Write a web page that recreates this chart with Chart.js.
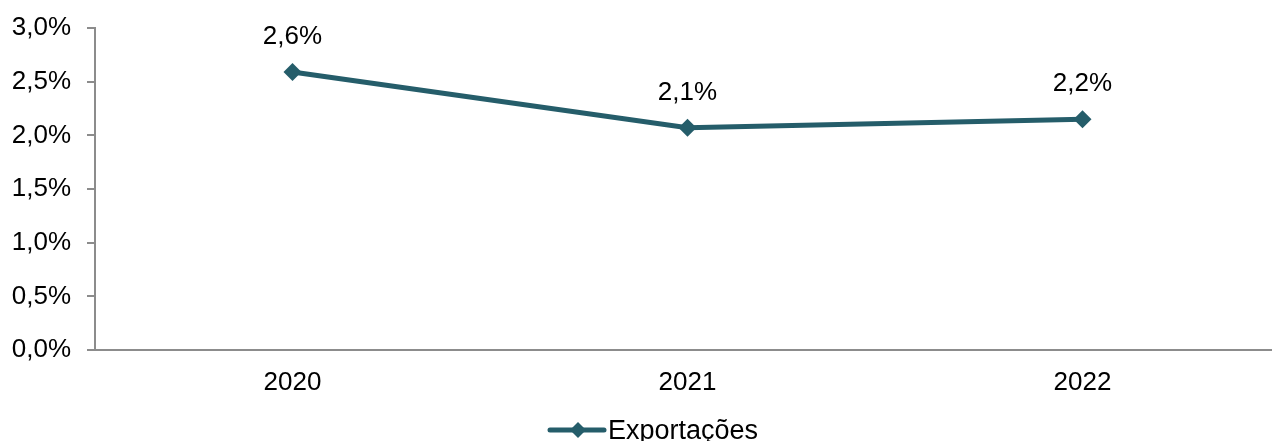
<!DOCTYPE html>
<html>
<head>
<meta charset="utf-8">
<script src="https://cdn.jsdelivr.net/npm/chart.js@4/dist/chart.umd.min.js"></script>
<style>
  html, body { margin: 0; padding: 0; background: #fff; overflow: hidden; }
  #wrap { width: 1289px; height: 441px; position: relative; }
</style>
</head>
<body>
<div id="wrap"><canvas id="lineChart"></canvas></div>
<script>
// Data
const years = ['2020', '2021', '2022'];
const exportacoes = [2.59, 2.07, 2.15];
const pointLabels = ['2,6%', '2,1%', '2,2%'];
const seriesName = 'Exportações';

const lineColor = '#255D6A';
const axisColor = '#8C8C8C';
const fontFamily = '"Liberation Sans", Arial, sans-serif';

// Labels above each point
const pointLabelPlugin = {
    id: 'pointLabels',
    afterDatasetsDraw(chart) {
        const ctx = chart.ctx;
        const meta = chart.getDatasetMeta(0);
        ctx.save();
        ctx.font = '26px ' + fontFamily;
        ctx.fillStyle = '#000';
        ctx.textAlign = 'center';
        ctx.textBaseline = 'middle';
        meta.data.forEach((pt, i) => {
            ctx.fillText(pointLabels[i], pt.x, pt.y - 35);
        });
        ctx.restore();
    }
};

// Legend with line + diamond marker, like the original
const bottomLegend = {
    id: 'bottomLegend',
    afterDraw(chart) {
        const ctx = chart.ctx;
        const y = 430;
        const x0 = 550;
        ctx.save();
        ctx.strokeStyle = lineColor;
        ctx.lineWidth = 5;
        ctx.lineCap = 'round';
        ctx.beginPath();
        ctx.moveTo(x0, y);
        ctx.lineTo(x0 + 54, y);
        ctx.stroke();
        ctx.fillStyle = lineColor;
        ctx.beginPath();
        const cx = x0 + 28, r = 8;
        ctx.moveTo(cx, y - r);
        ctx.lineTo(cx + r, y);
        ctx.lineTo(cx, y + r);
        ctx.lineTo(cx - r, y);
        ctx.closePath();
        ctx.fill();
        ctx.font = '27px ' + fontFamily;
        ctx.fillStyle = '#000';
        ctx.textAlign = 'left';
        ctx.textBaseline = 'alphabetic';
        ctx.fillText(seriesName, 608, 439);
        ctx.restore();
    }
};

const config = {
    type: 'line',
    data: {
        labels: years,
        datasets: [{
            label: seriesName,
            data: exportacoes,
            borderColor: lineColor,
            backgroundColor: lineColor,
            borderWidth: 5,
            tension: 0,
            pointStyle: 'rectRot',
            pointRadius: 9,
            pointBackgroundColor: lineColor,
            pointBorderColor: lineColor,
            pointBorderWidth: 0
        }]
    },
    options: {
        responsive: true,
        maintainAspectRatio: false,
        animation: false,
        layout: { padding: { top: 28, right: 0, bottom: 0, left: 0 } },
        plugins: {
            legend: { display: false },
            tooltip: { enabled: false }
        },
        scales: {
            y: {
                min: 0,
                max: 3,
                afterFit(scale) {
                    scale.width = 95;
                    scale.paddingTop = 0;
                    scale.paddingBottom = 0;
                },
                border: { color: axisColor, width: 2 },
                grid: {
                    drawOnChartArea: false,
                    color: axisColor,
                    lineWidth: 2,
                    tickLength: 8
                },
                ticks: {
                    stepSize: 0.5,
                    padding: 16,
                    color: '#000',
                    font: { family: fontFamily, size: 26 },
                    callback: v => v.toFixed(1).replace('.', ',') + '%'
                }
            },
            x: {
                offset: true,
                afterFit(scale) {
                    scale.height = 91;
                    scale.paddingLeft = 0;
                    scale.paddingRight = 0;
                },
                border: { color: axisColor, width: 2 },
                grid: { display: false, drawTicks: false },
                ticks: {
                    padding: 17,
                    color: '#000',
                    font: { family: fontFamily, size: 26 }
                }
            }
        }
    },
    plugins: [pointLabelPlugin, bottomLegend]
};

const ctx = document.getElementById('lineChart').getContext('2d');
const lineChart = new Chart(ctx, config);
</script>
</body>
</html>
